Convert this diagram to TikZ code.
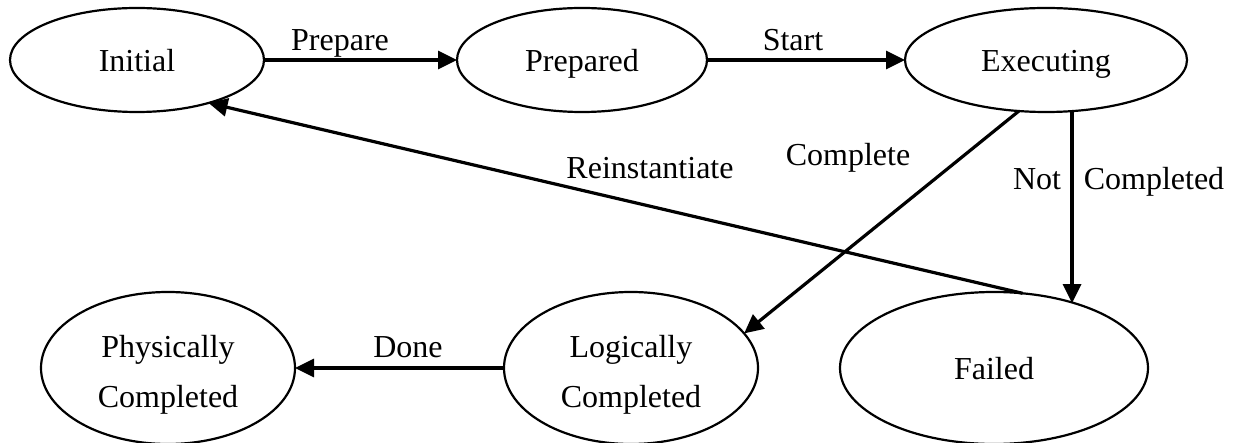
\documentclass[tikz,border=0pt]{standalone}
\usepackage{fontspec}
\setmainfont{Liberation Serif}
\usetikzlibrary{arrows.meta,shapes.geometric}

\tikzset{
  state/.style={ellipse, draw, line width=2.2pt, inner sep=0pt, outer sep=0pt,
    font=\fontsize{32}{50}\selectfont, align=center},
  oneline/.style={text height=30pt, text depth=6pt},
  twoline/.style={text height=86pt, text depth=6pt},
  trans/.style={line width=3.2pt, -{Triangle[length=19pt,width=18pt]}},
  lbl/.style={font=\fontsize{32}{40}\selectfont, anchor=base, inner sep=0pt}
}

\begin{document}
\begin{tikzpicture}[x=1pt,y=-1pt]
  \useasboundingbox (0,0) rectangle (1248,443);

  % states
  \node[state, oneline, minimum width=254pt, minimum height=104pt] (init) at (137,60) {Initial};
  \node[state, oneline, minimum width=250pt, minimum height=104pt] (prep) at (582,60) {Prepared};
  \node[state, oneline, minimum width=282pt, minimum height=104pt] (exec) at (1046,60) {Executing};
  \node[state, twoline, minimum width=254pt, minimum height=152pt] (phys) at (168,368) {Physically\\Completed};
  \node[state, twoline, minimum width=254pt, minimum height=152pt] (logi) at (631,368) {Logically\\Completed};
  \node[state, oneline, minimum width=308pt, minimum height=152pt] (fail) at (994,368) {Failed};

  % transitions
  \draw[trans] (init.east) -- (prep.west);
  \draw[trans] (prep.east) -- (exec.west);
  \draw[trans] (exec.-118.3) -- (logi.17.4);
  \draw[trans] (exec.-63.4) -- (exec.-63.4 |- fail.39.8);
  \draw[trans] (fail.69.8) -- (init.-31.6);
  \draw[trans] (logi.west) -- (phys.east);

  % transition labels
  \node[lbl] (l-prepare) at (340,51) {Prepare};
  \node[lbl] (l-start) at (793,51) {Start};
  \node[lbl] (l-reinst) at (650,179) {Reinstantiate};
  \node[lbl] (l-complete) at (848,166) {Complete};
  \node[lbl] (l-not) at (1037,190) {Not};
  \node[lbl] (l-completed) at (1154,190) {Completed};
  \node[lbl] (l-done) at (408,358) {Done};
\end{tikzpicture}
\end{document}
